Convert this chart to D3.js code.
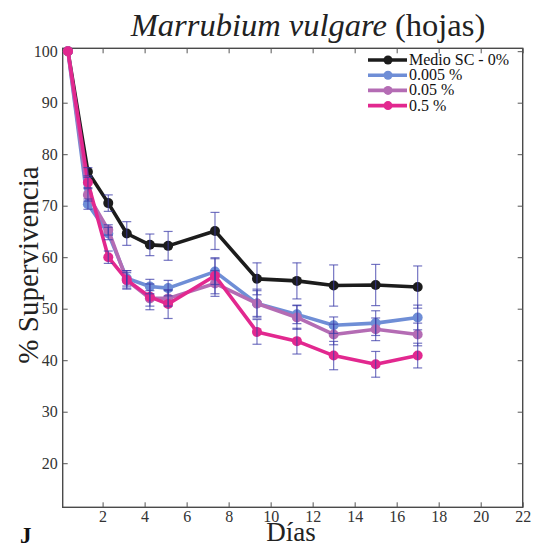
<!DOCTYPE html>
<html>
<head>
<meta charset="utf-8">
<script src="https://cdn.jsdelivr.net/npm/d3@7/dist/d3.min.js"></script>
<style>
  html, body { margin: 0; padding: 0; background: #fff; }
  svg { display: block; font-family: "Liberation Serif", "DejaVu Serif", serif; }
</style>
</head>
<body>
<svg id="chart" width="538" height="548"></svg>
<script>
// Survival (%) of Marrubium vulgare leaves over time, per treatment
const days = [0.35, 1.3, 2.27, 3.15, 4.25, 5.12, 7.35, 9.35, 11.25, 13, 15, 17];

const seriesNames = ["Medio SC - 0%", "0.005 %", "0.05 %", "0.5 %"];
const seriesColors = ["#1c1c1c", "#6f8ed6", "#b46cb4", "#e2288f"];

const control  = [100, 76.6, 70.5, 64.6, 62.4, 62.2, 65.1, 55.8, 55.4, 54.5, 54.6, 54.2];
const dose005  = [100, 70.3, 64.6, 55.9, 54.3, 54.0, 57.2, 51.0, 48.9, 46.8, 47.2, 48.3];
const dose05   = [100, 72.1, 65.3, 55.5, 52.0, 52.0, 54.9, 51.0, 48.3, 45.0, 46.0, 45.0];
const dose5    = [100, 74.5, 60.0, 55.6, 52.3, 50.9, 56.4, 45.5, 43.7, 40.9, 39.2, 40.9];

// standard errors
const errControl = [0, 0.8, 1.6, 2.3, 2.1, 2.8, 3.6, 3.1, 3.5, 4.0, 4.0, 4.1];
const err005     = [0, 1.0, 1.2, 1.5, 1.4, 1.5, 2.5, 2.8, 1.8, 1.6, 2.4, 2.4];
const err05      = [0, 1.2, 1.0, 1.5, 1.5, 1.5, 2.5, 2.5, 2.3, 2.0, 2.2, 2.2];
const err5       = [0, 1.0, 1.2, 1.8, 2.5, 2.8, 3.5, 2.4, 2.5, 2.75, 2.5, 2.4];

const xTicks = [2, 4, 6, 8, 10, 12, 14, 16, 18, 20, 22];
const yTicks = [20, 30, 40, 50, 60, 70, 80, 90, 100];

const allValues = [control, dose005, dose05, dose5];
const allErrors = [errControl, err005, err05, err5];

const svg = d3.select("#chart");

const plotL = 62.7, plotR = 522.7, plotT = 48.3, plotB = 507.3;
const x = d3.scaleLinear().domain([0.1, 22]).range([plotL, plotR]);
const y = d3.scaleLinear().domain([11.44, 100.56]).range([plotB, plotT]);

// frame
svg.append("rect")
  .attr("x", plotL).attr("y", plotT)
  .attr("width", plotR - plotL).attr("height", plotB - plotT)
  .attr("fill", "none").attr("stroke", "#4a4a4a").attr("stroke-width", 1.4);

// axes with inward ticks
const axisColor = "#555";
function styleAxis(g) {
  g.attr("font-family", "'Liberation Serif', serif");
  g.select(".domain").remove();
  g.selectAll(".tick line").attr("stroke", axisColor).attr("stroke-width", 1);
  g.selectAll(".tick text").attr("fill", "#333").style("font-size", "16px");
}

svg.append("g").attr("transform", `translate(0,${plotB})`)
  .call(d3.axisBottom(x).tickValues(xTicks).tickSizeInner(-5).tickSizeOuter(0).tickPadding(3.5).tickFormat(d3.format("d")))
  .call(styleAxis);

svg.append("g").attr("transform", `translate(0,${plotT})`)
  .call(d3.axisTop(x).tickValues(xTicks).tickSizeInner(-5).tickSizeOuter(0).tickFormat(""))
  .call(styleAxis);

svg.append("g").attr("transform", `translate(${plotL},0)`)
  .call(d3.axisLeft(y).tickValues(yTicks).tickSizeInner(-5).tickSizeOuter(0).tickPadding(5).tickFormat(d3.format("d")))
  .call(styleAxis);

svg.append("g").attr("transform", `translate(${plotR},0)`)
  .call(d3.axisRight(y).tickValues(yTicks).tickSizeInner(-5).tickSizeOuter(0).tickFormat(""))
  .call(styleAxis);

// series lines and markers
const line = d3.line().x((d, i) => x(days[i])).y(d => y(d));

allValues.forEach((vals, s) => {
  const g = svg.append("g").attr("class", "series");
  g.append("path").datum(vals)
    .attr("d", line)
    .attr("fill", "none")
    .attr("stroke", seriesColors[s])
    .attr("stroke-width", 3.6)
    .attr("stroke-linejoin", "round");
  g.selectAll("circle").data(vals).join("circle")
    .attr("cx", (d, i) => x(days[i]))
    .attr("cy", d => y(d))
    .attr("r", 5)
    .attr("fill", seriesColors[s]);
});

// error bars
const capW = 4.5;
allValues.forEach((vals, s) => {
  const errs = allErrors[s];
  const g = svg.append("g").attr("class", "errors")
    .attr("stroke", "#3b3ba8").attr("stroke-opacity", 0.7).attr("stroke-width", 1.2);
  vals.forEach((v, i) => {
    const e = errs[i];
    if (!e) return;
    const cx = x(days[i]);
    g.append("line").attr("x1", cx).attr("x2", cx).attr("y1", y(v - e)).attr("y2", y(v + e));
    g.append("line").attr("x1", cx - capW).attr("x2", cx + capW).attr("y1", y(v + e)).attr("y2", y(v + e));
    g.append("line").attr("x1", cx - capW).attr("x2", cx + capW).attr("y1", y(v - e)).attr("y2", y(v - e));
  });
});

// legend
const legend = svg.append("g").attr("transform", "translate(368,60)");
seriesNames.forEach((name, i) => {
  const row = legend.append("g").attr("transform", `translate(0,${i * 15.2})`);
  row.append("line").attr("x1", 0).attr("x2", 39).attr("y1", 0).attr("y2", 0)
    .attr("stroke", seriesColors[i]).attr("stroke-width", 3.6);
  row.append("circle").attr("cx", 20).attr("cy", 0).attr("r", 4.5).attr("fill", seriesColors[i]);
  row.append("text").attr("x", 41).attr("y", 5)
    .style("font-size", "16px").attr("fill", "#111").text(name);
});

// title
const title = svg.append("text")
  .attr("x", 308).attr("y", 36)
  .attr("text-anchor", "middle")
  .style("font-size", "32.5px").attr("fill", "#222");
title.append("tspan").style("font-style", "italic").text("Marrubium vulgare");
title.append("tspan").text(" (hojas)");

// axis titles
svg.append("text")
  .attr("transform", "translate(38,265) rotate(-90)")
  .attr("text-anchor", "middle")
  .style("font-size", "29px").attr("fill", "#222")
  .text("% Supervivencia");

svg.append("text")
  .attr("x", 291).attr("y", 541)
  .attr("text-anchor", "middle")
  .style("font-size", "27px").attr("fill", "#222")
  .text("Días");

svg.append("text")
  .attr("x", 20).attr("y", 543)
  .style("font-size", "23px").style("font-weight", "bold").attr("fill", "#111")
  .text("J");
</script>
</body>
</html>
